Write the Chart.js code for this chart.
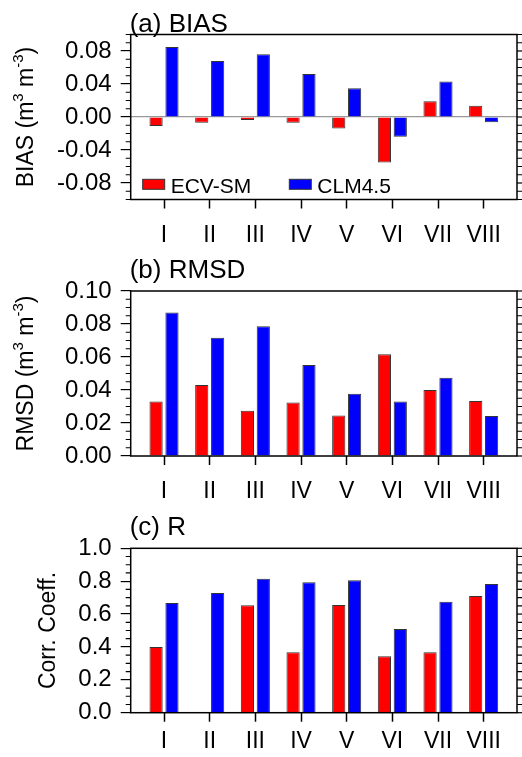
<!DOCTYPE html>
<html>
<head>
<meta charset="utf-8">
<script src="https://cdn.jsdelivr.net/npm/chart.js@4"></script>
<style>
  html, body { margin: 0; padding: 0; background: #fff; }
  .panel { position: relative; width: 522px; }
</style>
</head>
<body>
<div class="panel" style="height:257px"><canvas id="graficaBias"></canvas></div>
<div class="panel" style="height:257px"><canvas id="graficaRmsd"></canvas></div>
<div class="panel" style="height:243px"><canvas id="graficaR"></canvas></div>
<script>
// datos
const regiones = ["I", "II", "III", "IV", "V", "VI", "VII", "VIII"];
const series = ["ECV-SM", "CLM4.5"];

const biasEcv = [-0.011, -0.007, -0.0035, -0.007, -0.014, -0.055, 0.019, 0.0135];
const biasClm = [0.085, 0.068, 0.076, 0.052, 0.035, -0.024, 0.043, -0.0065];

const rmsdEcv = [0.033, 0.043, 0.0275, 0.0325, 0.0245, 0.0617, 0.040, 0.0333];
const rmsdClm = [0.087, 0.0716, 0.0787, 0.0552, 0.0377, 0.033, 0.0475, 0.0243];

const rEcv = [0.40, null, 0.653, 0.367, 0.655, 0.343, 0.367, 0.71];
const rClm = [0.667, 0.728, 0.815, 0.793, 0.805, 0.509, 0.675, 0.783];

const biasTicks = [-0.08, -0.04, 0.00, 0.04, 0.08];
const rmsdTicks = [0.00, 0.02, 0.04, 0.06, 0.08, 0.10];
const rTicks = [0.0, 0.2, 0.4, 0.6, 0.8, 1.0];

const FUENTE = "'Liberation Sans', Arial, sans-serif";

// marco, ticks menores, titulos y leyenda
const decoracion = {
  id: "decoracion",
  afterDraw(chart, args, o) {
    const { ctx, chartArea: a } = chart;
    const y = chart.scales.y;
    ctx.save();

    ctx.strokeStyle = "#000";
    ctx.lineWidth = 1.5;
    ctx.strokeRect(a.left, a.top, a.right - a.left, a.bottom - a.top);

    ctx.lineWidth = 1.2;
    const n = Math.round((y.max - y.min) / o.menor);
    for (let k = 0; k <= n; k++) {
      const v = y.min + k * o.menor;
      const py = y.getPixelForValue(v);
      const mayor = o.marcas.some(m => Math.abs(m - v) < 1e-9);
      ctx.beginPath();
      if (!mayor) {
        ctx.moveTo(a.left - 5, py);
        ctx.lineTo(a.left, py);
      }
      ctx.moveTo(a.right, py);
      ctx.lineTo(a.right + (mayor ? 10 : 5), py);
      ctx.stroke();
    }

    // titulo del panel
    ctx.fillStyle = "#000";
    ctx.textAlign = "left";
    ctx.textBaseline = "alphabetic";
    ctx.font = "26px " + FUENTE;
    ctx.fillText(o.titulo, a.left - 1, a.top - o.tituloY);

    // titulo del eje y (con superindices)
    const partes = o.ejeY;
    let ancho = 0;
    partes.forEach(p => {
      ctx.font = (p.sup ? 15 : 23) + "px " + FUENTE;
      ancho += ctx.measureText(p.t).width;
    });
    ctx.translate(o.ejeX, (a.top + a.bottom) / 2);
    ctx.rotate(-Math.PI / 2);
    let x = -ancho / 2;
    partes.forEach(p => {
      ctx.font = (p.sup ? 15 : 23) + "px " + FUENTE;
      ctx.fillText(p.t, x, p.sup ? -10 : 0);
      x += ctx.measureText(p.t).width;
    });
    ctx.setTransform(1, 0, 0, 1, 0, 0);

    // leyenda
    if (o.leyenda) {
      ctx.font = "21px " + FUENTE;
      ctx.lineWidth = 1;
      chart.data.datasets.forEach((ds, i) => {
        const bx = a.left + 12 + i * 146.6;
        const by = a.bottom - 20.2;
        ctx.fillStyle = ds.backgroundColor;
        ctx.fillRect(bx, by, 22, 10);
        ctx.strokeStyle = "#333";
        ctx.strokeRect(bx, by, 22, 10);
        ctx.fillStyle = "#000";
        ctx.fillText(ds.label, bx + 28, a.bottom - 6.2);
      });
    }
    ctx.restore();
  }
};

function crearPanel(id, cfg) {
  const ctx = document.getElementById(id).getContext("2d");
  return new Chart(ctx, {
    type: "bar",
    data: {
      datasets: [
        {
          label: series[0],
          data: cfg.ecv.map((v, i) => ({ x: i + 1, y: v })),
          backgroundColor: "#ff0000",
          borderColor: "#333333",
          borderWidth: 1
        },
        {
          label: series[1],
          data: cfg.clm.map((v, i) => ({ x: i + 1, y: v })),
          backgroundColor: "#0000ff",
          borderColor: "#333333",
          borderWidth: 1
        }
      ]
    },
    options: {
      responsive: true,
      maintainAspectRatio: false,
      animation: false,
      categoryPercentage: 0.696,
      barPercentage: 0.83,
      layout: { padding: { top: cfg.arriba, right: 5, left: 0, bottom: 0 } },
      plugins: {
        legend: { display: false },
        tooltip: { enabled: false },
        decoracion: {
          titulo: cfg.titulo,
          tituloY: cfg.tituloY,
          ejeY: cfg.ejeY,
          ejeX: cfg.ejeX,
          menor: cfg.menor,
          marcas: cfg.marcas,
          leyenda: cfg.leyenda
        }
      },
      scales: {
        x: {
          type: "linear",
          min: 0.27,
          max: 8.73,
          offset: false,
          afterBuildTicks: s => { s.ticks = regiones.map((r, i) => ({ value: i + 1 })); },
          afterFit: s => { s.height = cfg.altoX; },
          ticks: {
            callback: v => regiones[v - 1],
            font: { family: FUENTE, size: 23 },
            color: "#000",
            padding: cfg.padX,
            maxRotation: 0,
            autoSkip: false
          },
          grid: { drawOnChartArea: false, offset: false, tickLength: 9, tickColor: "#000", tickWidth: 1.5 },
          border: { display: false }
        },
        y: {
          min: cfg.min,
          max: cfg.max,
          afterBuildTicks: s => { s.ticks = cfg.marcas.map(v => ({ value: v })); },
          afterFit: s => { s.width = 130.7; },
          ticks: {
            callback: v => v.toFixed(cfg.decimales),
            font: { family: FUENTE, size: 24 },
            color: "#000",
            padding: 9
          },
          grid: {
            color: c => (cfg.cero && c.tick && c.tick.value === 0) ? "#999999" : "rgba(0,0,0,0)",
            lineWidth: 1.2,
            tickColor: "#000",
            tickLength: 10,
            tickWidth: 1.2
          },
          border: { display: false }
        }
      }
    },
    plugins: [decoracion]
  });
}

crearPanel("graficaBias", {
  ecv: biasEcv, clm: biasClm, marcas: biasTicks, min: -0.1, max: 0.1, menor: 0.01,
  decimales: 2, cero: true, leyenda: true,
  titulo: "(a) BIAS", tituloY: 3, arriba: 34.5, altoX: 57.5, padX: 13, ejeX: 33,
  ejeY: [{ t: "BIAS (m" }, { t: "3", sup: true }, { t: " m" }, { t: "-3", sup: true }, { t: ")" }]
});

crearPanel("graficaRmsd", {
  ecv: rmsdEcv, clm: rmsdClm, marcas: rmsdTicks, min: 0, max: 0.1, menor: 0.005,
  decimales: 2, cero: false, leyenda: false,
  titulo: "(b) RMSD", tituloY: 13, arriba: 34, altoX: 58, padX: 13, ejeX: 33,
  ejeY: [{ t: "RMSD (m" }, { t: "3", sup: true }, { t: " m" }, { t: "-3", sup: true }, { t: ")" }]
});

crearPanel("graficaR", {
  ecv: rEcv, clm: rClm, marcas: rTicks, min: 0, max: 1, menor: 0.05,
  decimales: 1, cero: false, leyenda: false,
  titulo: "(c) R", tituloY: 13, arriba: 34.3, altoX: 44.3, padX: 6, ejeX: 55,
  ejeY: [{ t: "Corr. Coeff." }]
});
</script>
</body>
</html>
